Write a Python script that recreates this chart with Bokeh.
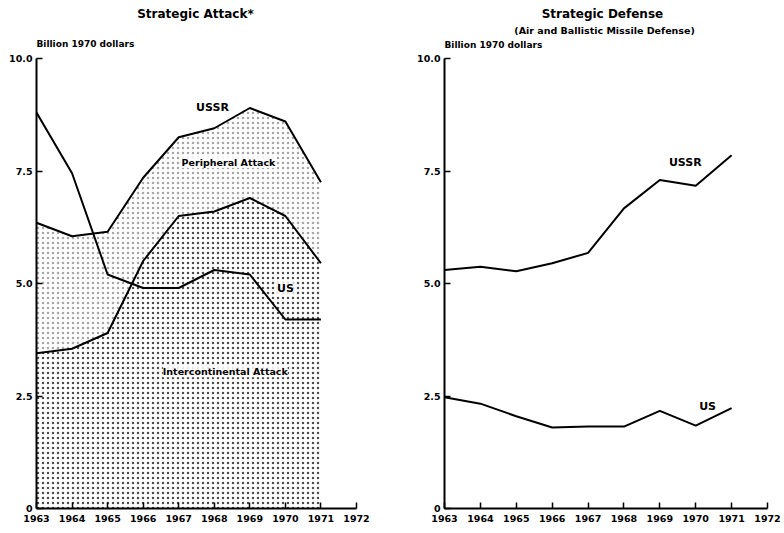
from bokeh.plotting import figure
from bokeh.layouts import row
from bokeh.models import FixedTicker, Label, Range1d
from bokeh.embed import file_html
from bokeh.resources import INLINE

years = [1963, 1964, 1965, 1966, 1967, 1968, 1969, 1970, 1971]
ussr_attack_total = [6.35, 6.05, 6.15, 7.35, 8.25, 8.45, 8.9, 8.6, 7.25]
ussr_attack_interc = [3.45, 3.55, 3.9, 5.5, 6.5, 6.6, 6.9, 6.5, 5.45]
us_attack_total = [8.8, 7.45, 5.2, 4.9, 4.9, 5.3, 5.2, 4.2, 4.2]
ussr_defense = [5.3, 5.37, 5.27, 5.45, 5.68, 6.67, 7.3, 7.17, 7.85]
us_defense = [2.47, 2.33, 2.05, 1.8, 1.82, 1.82, 2.17, 1.84, 2.23]

x_ticks = [1963, 1964, 1965, 1966, 1967, 1968, 1969, 1970, 1971, 1972]
x_tick_labels = ["1963", "1964", "1965", "1966", "1967", "1968", "1969", "1970", "1971", "1972"]
y_ticks = [0, 2.5, 5.0, 7.5, 10.0]
y_tick_labels = ["0", "2.5", "5.0", "7.5", "10.0"]

FONT = "DejaVu Sans"


def make_fig(width, left, right):
    p = figure(width=width, height=527, x_range=Range1d(1963, 1972), y_range=Range1d(0, 508 / 45),
               output_backend="svg", toolbar_location=None,
               min_border_left=left, min_border_right=right,
               min_border_top=0, min_border_bottom=19)
    p.outline_line_color = None
    p.grid.visible = False
    p.xaxis.ticker = FixedTicker(ticks=x_ticks)
    p.xaxis.major_label_overrides = dict(zip(x_ticks, x_tick_labels))
    p.yaxis.ticker = FixedTicker(ticks=y_ticks)
    p.yaxis.major_label_overrides = dict(zip(y_ticks, y_tick_labels))
    p.yaxis.bounds = (0, 10)
    for ax in (p.xaxis[0], p.yaxis[0]):
        ax.axis_line_width = 2
        ax.axis_line_color = "black"
        ax.major_tick_in = 6
        ax.major_tick_out = 0
        ax.major_tick_line_width = 1.5
        ax.minor_tick_line_color = None
        ax.major_label_text_font = FONT
        ax.major_label_text_font_style = "bold"
        ax.major_label_text_font_size = "9.5px"
        ax.major_label_text_color = "black"
        ax.major_label_standoff = 4
    p.xaxis.major_label_standoff = 6
    return p


def lab(p, x, y, text, size, align="center", bg=None):
    p.add_layout(Label(x=x, y=y, text=text, text_align=align, text_baseline="middle",
                       text_font=FONT, text_font_style="bold", text_font_size=size,
                       text_color="black", background_fill_color=bg,
                       background_fill_alpha=0.85 if bg else 1.0))


# Left: Strategic Attack
p1 = make_fig(392, 36, 36)
p1.varea(x=years, y1=[0] * len(years), y2=ussr_attack_interc, fill_alpha=0,
         hatch_pattern=".", hatch_scale=5, hatch_color="black", hatch_alpha=0.7)
p1.varea(x=years, y1=ussr_attack_interc, y2=ussr_attack_total, fill_alpha=0,
         hatch_pattern=".", hatch_scale=5, hatch_color="black", hatch_alpha=0.35)
p1.line(years, ussr_attack_total, line_width=2, line_color="black")
p1.line(years, ussr_attack_interc, line_width=2, line_color="black")
p1.line(years, us_attack_total, line_width=2, line_color="black")
lab(p1, 1967.47, 10.98, "Strategic Attack*", "12px")
lab(p1, 1963.0, 10.33, "Billion 1970 dollars", "9px", "left")
lab(p1, 1967.95, 8.91, "USSR", "11px")
lab(p1, 1968.4, 7.69, "Peripheral Attack", "9.5px", bg="white")
lab(p1, 1970.0, 4.89, "US", "11px", bg="white")
lab(p1, 1968.31, 3.04, "Intercontinental Attack", "9.5px", bg="white")

# Right: Strategic Defense
p2 = make_fig(390, 52, 15)
p2.line(years, ussr_defense, line_width=2, line_color="black")
p2.line(years, us_defense, line_width=2, line_color="black")
lab(p2, 1967.40, 10.98, "Strategic Defense", "12px")
lab(p2, 1967.46, 10.62, "(Air and Ballistic Missile Defense)", "9.5px")
lab(p2, 1963.0, 10.31, "Billion 1970 dollars", "9px", "left")
lab(p2, 1969.71, 7.69, "USSR", "11px")
lab(p2, 1970.33, 2.27, "US", "11px")

layout = row(p1, p2)
open("out.html", "w").write(file_html(layout, INLINE))
